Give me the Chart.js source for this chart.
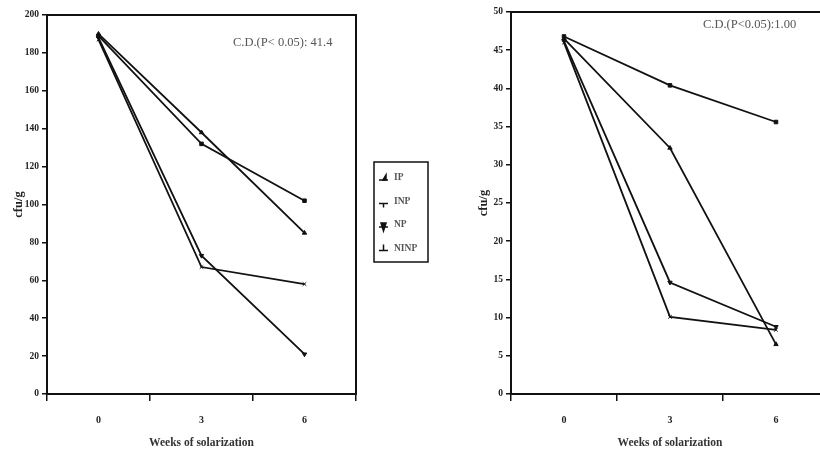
<!DOCTYPE html>
<html>
<head>
<meta charset="utf-8">
<script src="https://cdn.jsdelivr.net/npm/chart.js"></script>
<style>
  html, body { margin: 0; padding: 0; background: #fff; overflow: hidden; width: 820px; height: 451px; }
  .box { position: absolute; top: 0; height: 451px; }
  #leftBox { left: 0; width: 440px; }
  #rightBox { left: 460px; width: 374px; }
</style>
</head>
<body>
<div class="box" id="leftBox"><canvas id="leftChart" width="440" height="451"></canvas></div>
<div class="box" id="rightBox"><canvas id="rightChart" width="374" height="451"></canvas></div>
<script>
// weeks of solarization
const weeks = ['0', '3', '6'];
const seriesNames = ['IP', 'INP', 'NP', 'NINP'];

// left panel (0-200)
const ipLeft = [190, 138, 85];
const inpLeft = [189, 132, 102];
const npLeft = [188, 73, 21];
const ninpLeft = [187, 67, 58];
const leftTicks = [0, 20, 40, 60, 80, 100, 120, 140, 160, 180, 200];

// right panel (0-50)
const ipRight = [46.5, 32.2, 6.5];
const inpRight = [46.8, 40.4, 35.6];
const npRight = [46.2, 14.6, 8.8];
const ninpRight = [46.0, 10.1, 8.4];
const rightTicks = [0, 5, 10, 15, 20, 25, 30, 35, 40, 45, 50];

const serif = "'Liberation Serif', 'DejaVu Serif', serif";
const markers = [
  { style: 'triangle', rot: 0 },
  { style: 'rect', rot: 0 },
  { style: 'triangle', rot: 180 },
  { style: 'crossRot', rot: 0 }
];

function makeDatasets(values) {
  return values.map((v, i) => ({
    label: seriesNames[i],
    data: v,
    borderColor: '#111',
    backgroundColor: '#111',
    borderWidth: 1.8,
    pointStyle: markers[i].style,
    pointRotation: markers[i].rot,
    pointRadius: 2.5,
    pointBorderWidth: 1,
    tension: 0
  }));
}

// frame + CD text + legend
const framePlugin = {
  id: 'frame',
  afterDraw(chart, args, opts) {
    const { ctx, chartArea: a } = chart;
    ctx.save();
    ctx.strokeStyle = '#111';
    ctx.lineWidth = 2;
    ctx.strokeRect(a.left, a.top, a.right - a.left, a.bottom - a.top);
    ctx.fillStyle = '#555';
    ctx.font = '12.5px ' + serif;
    ctx.textBaseline = 'middle';
    ctx.fillText(opts.note, opts.noteX, opts.noteY);

    if (opts.legend) {
      const lx = 374, ly = 162, lw = 54, lh = 100;
      ctx.lineWidth = 1.5;
      ctx.strokeRect(lx, ly, lw, lh);
      ctx.font = 'bold 9.5px ' + serif;
      chart.data.datasets.forEach((ds, i) => {
        const y = ly + 16 + i * 23.5;
        ctx.lineWidth = 1.5;
        ctx.beginPath();
        ctx.moveTo(lx + 5, y + 2);
        ctx.lineTo(lx + 14, y + 2);
        ctx.stroke();
        ctx.fillStyle = '#111';
        ctx.beginPath();
        if (i === 0) { ctx.moveTo(lx + 9, y + 2); ctx.lineTo(lx + 12, y - 3); ctx.lineTo(lx + 12, y + 2); }
        if (i === 1) { ctx.moveTo(lx + 9.5, y + 2); ctx.lineTo(lx + 9.5, y + 6); }
        if (i === 2) { ctx.moveTo(lx + 7, y - 2); ctx.lineTo(lx + 12, y - 2); ctx.lineTo(lx + 9.5, y + 6); }
        if (i === 3) { ctx.moveTo(lx + 9.5, y + 2); ctx.lineTo(lx + 9.5, y - 4); }
        ctx.closePath();
        ctx.fill();
        ctx.stroke();
        ctx.fillStyle = '#555';
        ctx.fillText(ds.label, lx + 20, y);
      });
    }
    ctx.restore();
  }
};

function makeChart(id, values, ticks, max, step, opts) {
  return new Chart(document.getElementById(id), {
    type: 'line',
    data: { labels: weeks, datasets: makeDatasets(values) },
    options: {
      responsive: false,
      animation: false,
      layout: { padding: opts.padding },
      plugins: {
        legend: { display: false },
        tooltip: { enabled: false },
        frame: opts.frame
      },
      scales: {
        x: {
          offset: true,
          grid: { offset: true, drawOnChartArea: false, tickLength: 7, color: '#111', lineWidth: 1.5 },
          border: { display: false },
          ticks: { color: '#222', padding: 13, font: { family: serif, size: 10, weight: 'bold' } },
          title: { display: true, text: 'Weeks of solarization', color: '#333', padding: { top: 0, bottom: 1 },
                   font: { family: serif, size: 11.5, weight: 'bold' } },
          afterFit: s => { s.height = 57; }
        },
        y: {
          min: 0, max: max,
          afterBuildTicks: s => { s.ticks = ticks.map(v => ({ value: v })); },
          grid: { drawOnChartArea: false, tickLength: 5, color: '#111', lineWidth: 1.5 },
          border: { display: false },
          ticks: { color: '#222', padding: 3, stepSize: step, font: { family: serif, size: 9.5, weight: 'bold' } },
          title: { display: true, text: 'cfu/g', color: '#222', padding: 0,
                   font: { family: serif, size: 12.5, weight: 'bold' } },
          afterFit: s => { s.width = opts.yWidth; }
        }
      }
    },
    plugins: [framePlugin]
  });
}

makeChart('leftChart', [ipLeft, inpLeft, npLeft, ninpLeft], leftTicks, 200, 20, {
  padding: { top: 15, right: 84, left: 11, bottom: 0 },
  yWidth: 36,
  frame: { note: 'C.D.(P< 0.05): 41.4', noteX: 233, noteY: 43, legend: true }
});

makeChart('rightChart', [ipRight, inpRight, npRight, ninpRight], rightTicks, 50, 5, {
  padding: { top: 12, right: 4, left: 16, bottom: 0 },
  yWidth: 35,
  frame: { note: 'C.D.(P<0.05):1.00', noteX: 243, noteY: 25, legend: false }
});
</script>
</body>
</html>
